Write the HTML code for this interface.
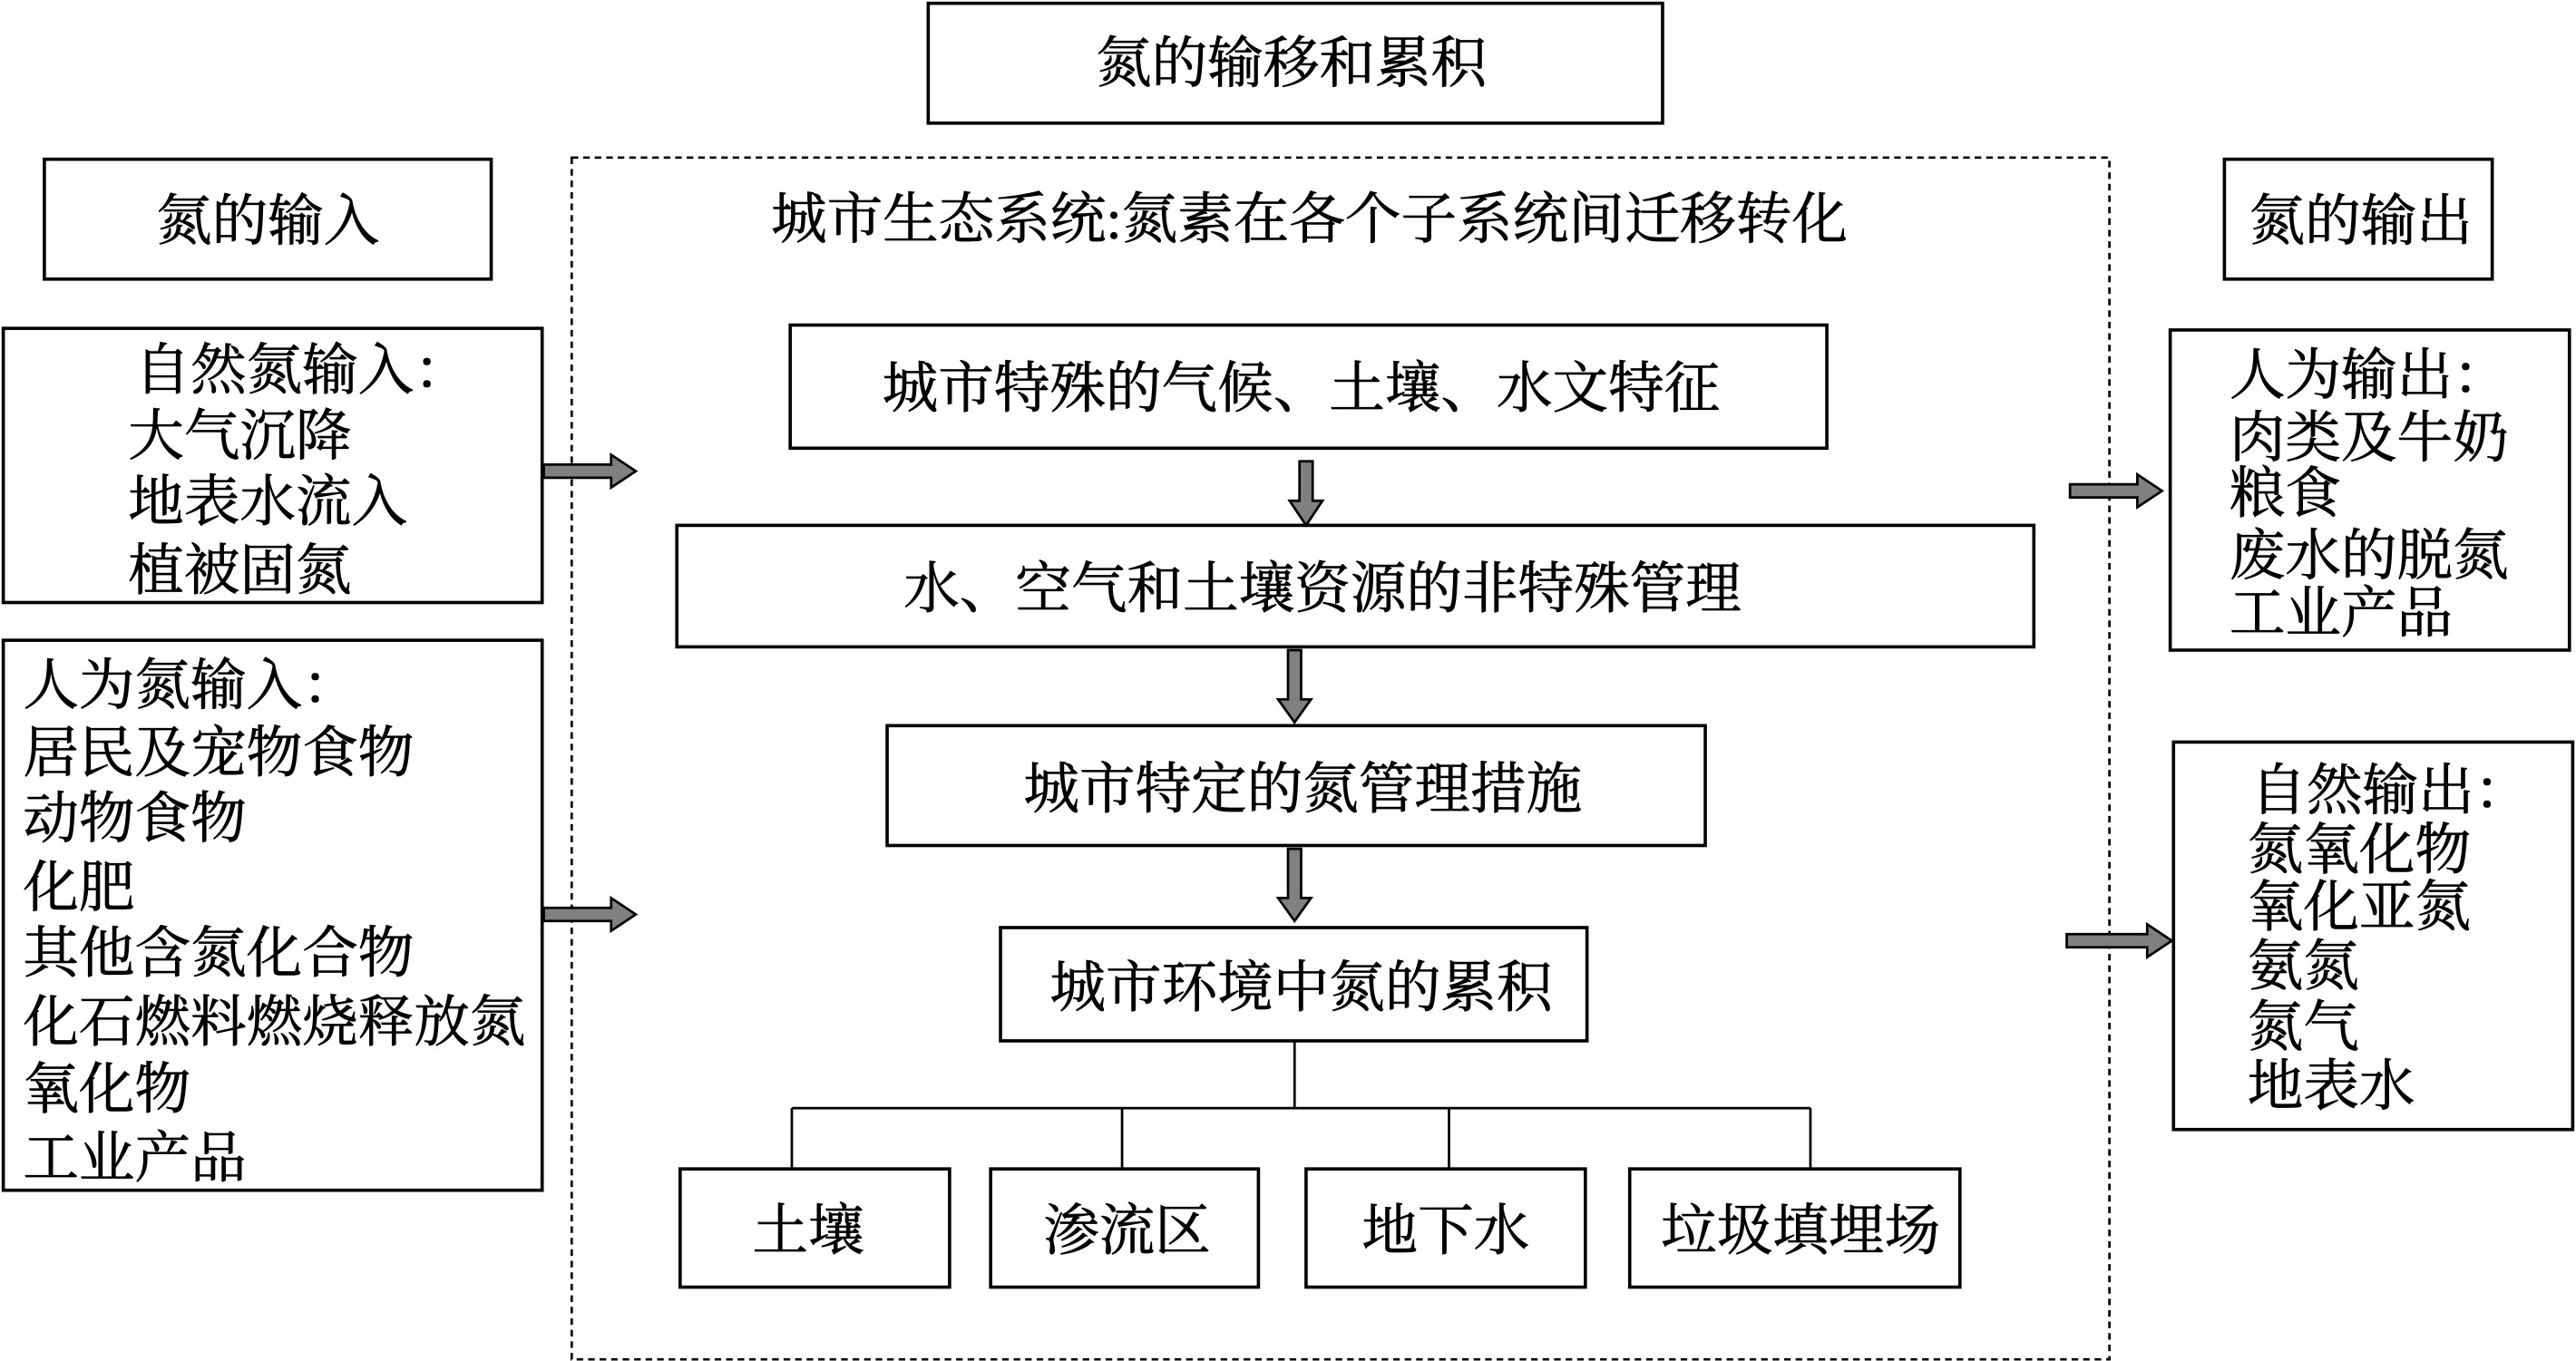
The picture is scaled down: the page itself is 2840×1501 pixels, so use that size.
<!DOCTYPE html>
<html><head><meta charset="utf-8"><style>
html,body{margin:0;padding:0;background:#fff;}
svg{display:block;}
text{font-family:"Liberation Serif","Noto Serif CJK SC",serif;font-size:34px;fill:#000;stroke:#000;stroke-width:0.4px;}
</style></head><body>
<svg width="2840" height="1501" viewBox="0 0 1568 829" preserveAspectRatio="none" xmlns="http://www.w3.org/2000/svg">
<g fill="none" stroke="#000" stroke-width="2">
<rect x="565" y="2" width="447" height="73"/>
<rect x="348" y="96" width="936" height="732" stroke-dasharray="4,3" stroke-width="1.5"/>
<rect x="27" y="97" width="272" height="73"/>
<rect x="1354" y="97" width="163" height="73"/>
<rect x="2" y="200" width="328" height="167"/>
<rect x="2" y="390" width="328" height="335"/>
<rect x="481" y="198" width="631" height="75"/>
<rect x="412" y="320" width="826" height="74"/>
<rect x="540" y="442" width="498" height="73"/>
<rect x="609" y="565" width="357" height="69"/>
<rect x="414" y="712" width="164" height="72"/>
<rect x="603" y="712" width="163" height="72"/>
<rect x="795" y="712" width="170" height="72"/>
<rect x="992" y="712" width="201" height="72"/>
<rect x="1321" y="201" width="243" height="195"/>
<rect x="1323" y="452" width="243" height="236"/>
<path d="M788 634V675M482 675H1102M482 675V712M683 675V712M882 675V712M1102 675V712" stroke-width="1.5"/>
</g>
<g fill="#808080" stroke="#000" stroke-width="1.5">
<polygon points="331,283 372,283 372,277 387,287 372,297 372,291 331,291"/>
<polygon points="331,553 372,553 372,547 387,557 372,567 372,561 331,561"/>
<polygon points="1260,295 1301,295 1301,289 1316,299 1301,309 1301,303 1260,303"/>
<polygon points="1258,569 1307,569 1307,563 1322,573 1307,583 1307,577 1258,577"/>
<polygon points="791,281 799,281 799,305 805,305 795,320 785,305 791,305"/>
<polygon points="784,396 792,396 792,426 798,426 788,440 778,426 784,426"/>
<polygon points="784,517 792,517 792,547 798,547 788,561 778,547 784,547"/>
</g>
<g text-anchor="middle">
<text x="786" y="50">氮的输移和累积</text>
<text x="163" y="146">氮的输入</text>
<text x="1437" y="146">氮的输出</text>
<text x="797" y="145">城市生态系统:氮素在各个子系统间迁移转化</text>
<text x="792" y="248">城市特殊的气候、土壤、水文特征</text>
<text x="805" y="370">水、空气和土壤资源的非特殊管理</text>
<text x="793" y="492">城市特定的氮管理措施</text>
<text x="792" y="613">城市环境中氮的累积</text>
<text x="492" y="761">土壤</text>
<text x="686" y="761">渗流区</text>
<text x="880" y="761">地下水</text>
<text x="1096" y="761">垃圾填埋场</text>
</g>
<g>
<text x="82" y="237">自然氮输入：</text>
<text x="78" y="277">大气沉降</text>
<text x="78" y="317">地表水流入</text>
<text x="78" y="359">植被固氮</text>
<text x="14" y="429">人为氮输入：</text>
<text x="14" y="470">居民及宠物食物</text>
<text x="14" y="510">动物食物</text>
<text x="14" y="552">化肥</text>
<text x="14" y="592">其他含氮化合物</text>
<text x="14" y="634">化石燃料燃烧释放氮</text>
<text x="14" y="675">氧化物</text>
<text x="14" y="717">工业产品</text>
<text x="1357" y="240">人为输出：</text>
<text x="1357" y="278">肉类及牛奶</text>
<text x="1357" y="312">粮食</text>
<text x="1357" y="350">废水的脱氮</text>
<text x="1357" y="385">工业产品</text>
<text x="1370" y="493">自然输出：</text>
<text x="1368" y="529">氮氧化物</text>
<text x="1368" y="564">氧化亚氮</text>
<text x="1368" y="600">氨氮</text>
<text x="1368" y="637">氮气</text>
<text x="1368" y="673">地表水</text>
</g>
</svg>
</body></html>
